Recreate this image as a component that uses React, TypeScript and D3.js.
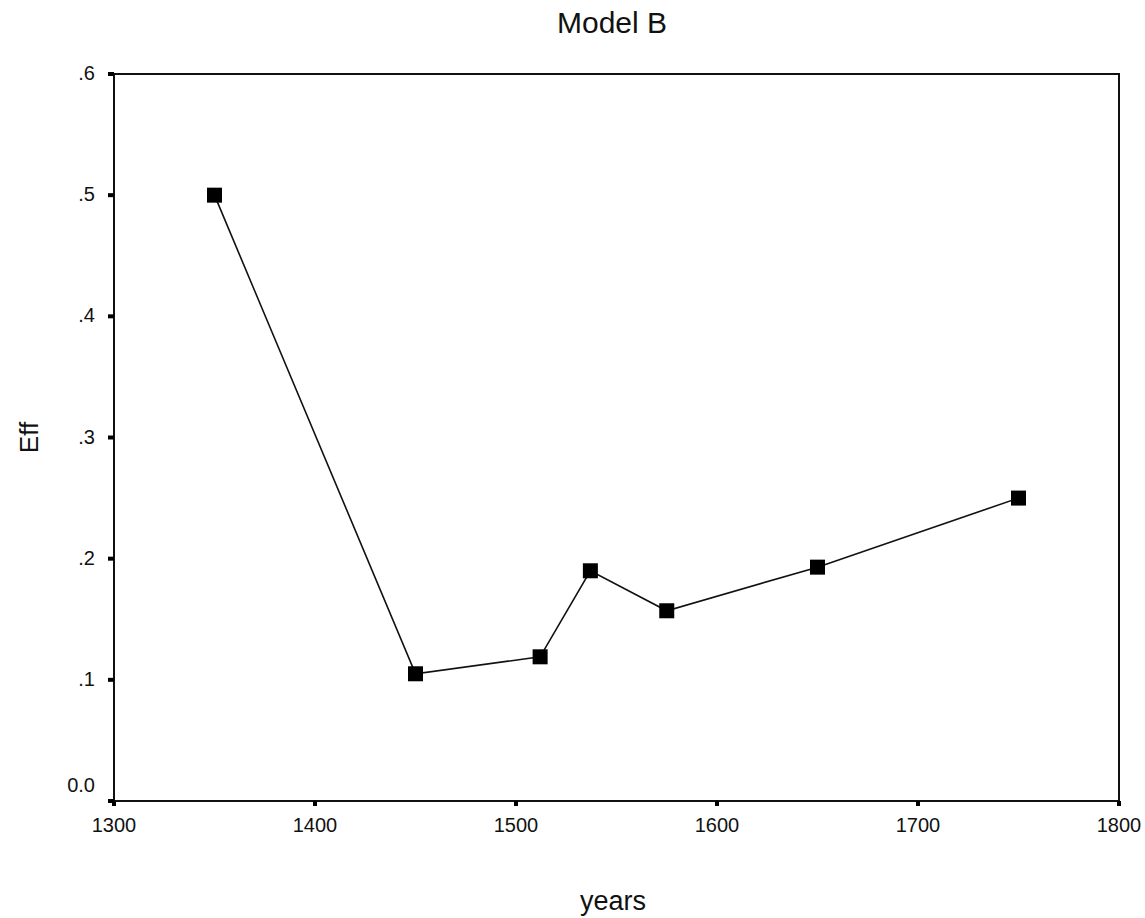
import * as d3 from "d3"

// data
const years = [1350, 1450, 1512, 1537, 1575, 1650, 1750]
const eff = [0.5, 0.105, 0.119, 0.19, 0.157, 0.193, 0.25]
const xTicks = [1300, 1400, 1500, 1600, 1700, 1800]
const yTicks = [0, 0.1, 0.2, 0.3, 0.4, 0.5, 0.6]
const yTickLabels = ["0.0", ".1", ".2", ".3", ".4", ".5", ".6"]

export default function App() {
  const width = 1145
  const height = 918
  const margin = { top: 74, right: 26, bottom: 117, left: 114 }
  const font = "'Liberation Sans', Arial, sans-serif"

  const x = d3.scaleLinear().domain([1300, 1800]).range([margin.left, width - margin.right])
  const y = d3.scaleLinear().domain([0, 0.6]).range([height - margin.bottom, margin.top])

  const points = years.map((yr, i) => ({ yr, v: eff[i] }))
  const line = d3
    .line<{ yr: number; v: number }>()
    .x((d) => x(d.yr))
    .y((d) => y(d.v))

  const x0 = x(1300)
  const x1 = x(1800)
  const y0 = y(0)
  const y1 = y(0.6)
  const size = 15

  return (
    <svg
      width={width}
      height={height}
      style={{ position: "absolute", left: 0, top: 0, background: "#fff" }}
      fontFamily={font}
    >
      <rect x={0} y={0} width={width} height={height} fill="#fff" />

      {/* title */}
      <text x={612} y={33} textAnchor="middle" fontSize={30} fill="#111">
        Model B
      </text>

      {/* frame */}
      <rect x={x0} y={y1} width={x1 - x0} height={y0 - y1} fill="none" stroke="#111" strokeWidth={2} />

      {/* x ticks */}
      {xTicks.map((t) => (
        <g key={"x" + t}>
          <line x1={x(t)} x2={x(t)} y1={y0} y2={y0 + 5} stroke="#000" strokeWidth={4} />
          <text x={x(t)} y={832} textAnchor="middle" fontSize={20} fill="#111">
            {t}
          </text>
        </g>
      ))}

      {/* y ticks */}
      {yTicks.map((t, i) => (
        <g key={"y" + t}>
          <line x1={x0 - 6} x2={x0} y1={y(t)} y2={y(t)} stroke="#000" strokeWidth={4} />
          <text
            x={95}
            y={y(t) + (t === 0 ? -9 : 6)}
            textAnchor="end"
            fontSize={20}
            fill="#111"
          >
            {yTickLabels[i]}
          </text>
        </g>
      ))}

      {/* axis titles */}
      <text x={613} y={910} textAnchor="middle" fontSize={27} fill="#111">
        years
      </text>
      <text
        transform={`translate(38,${(y0 + y1) / 2}) rotate(-90)`}
        textAnchor="middle"
        fontSize={26}
        fill="#111"
      >
        Eff
      </text>

      {/* series */}
      <path d={line(points) || ""} fill="none" stroke="#111" strokeWidth={1.6} />
      {points.map((d, i) => (
        <rect
          key={i}
          x={x(d.yr) - size / 2}
          y={y(d.v) - size / 2}
          width={size}
          height={size}
          fill="#000"
        />
      ))}
    </svg>
  )
}
